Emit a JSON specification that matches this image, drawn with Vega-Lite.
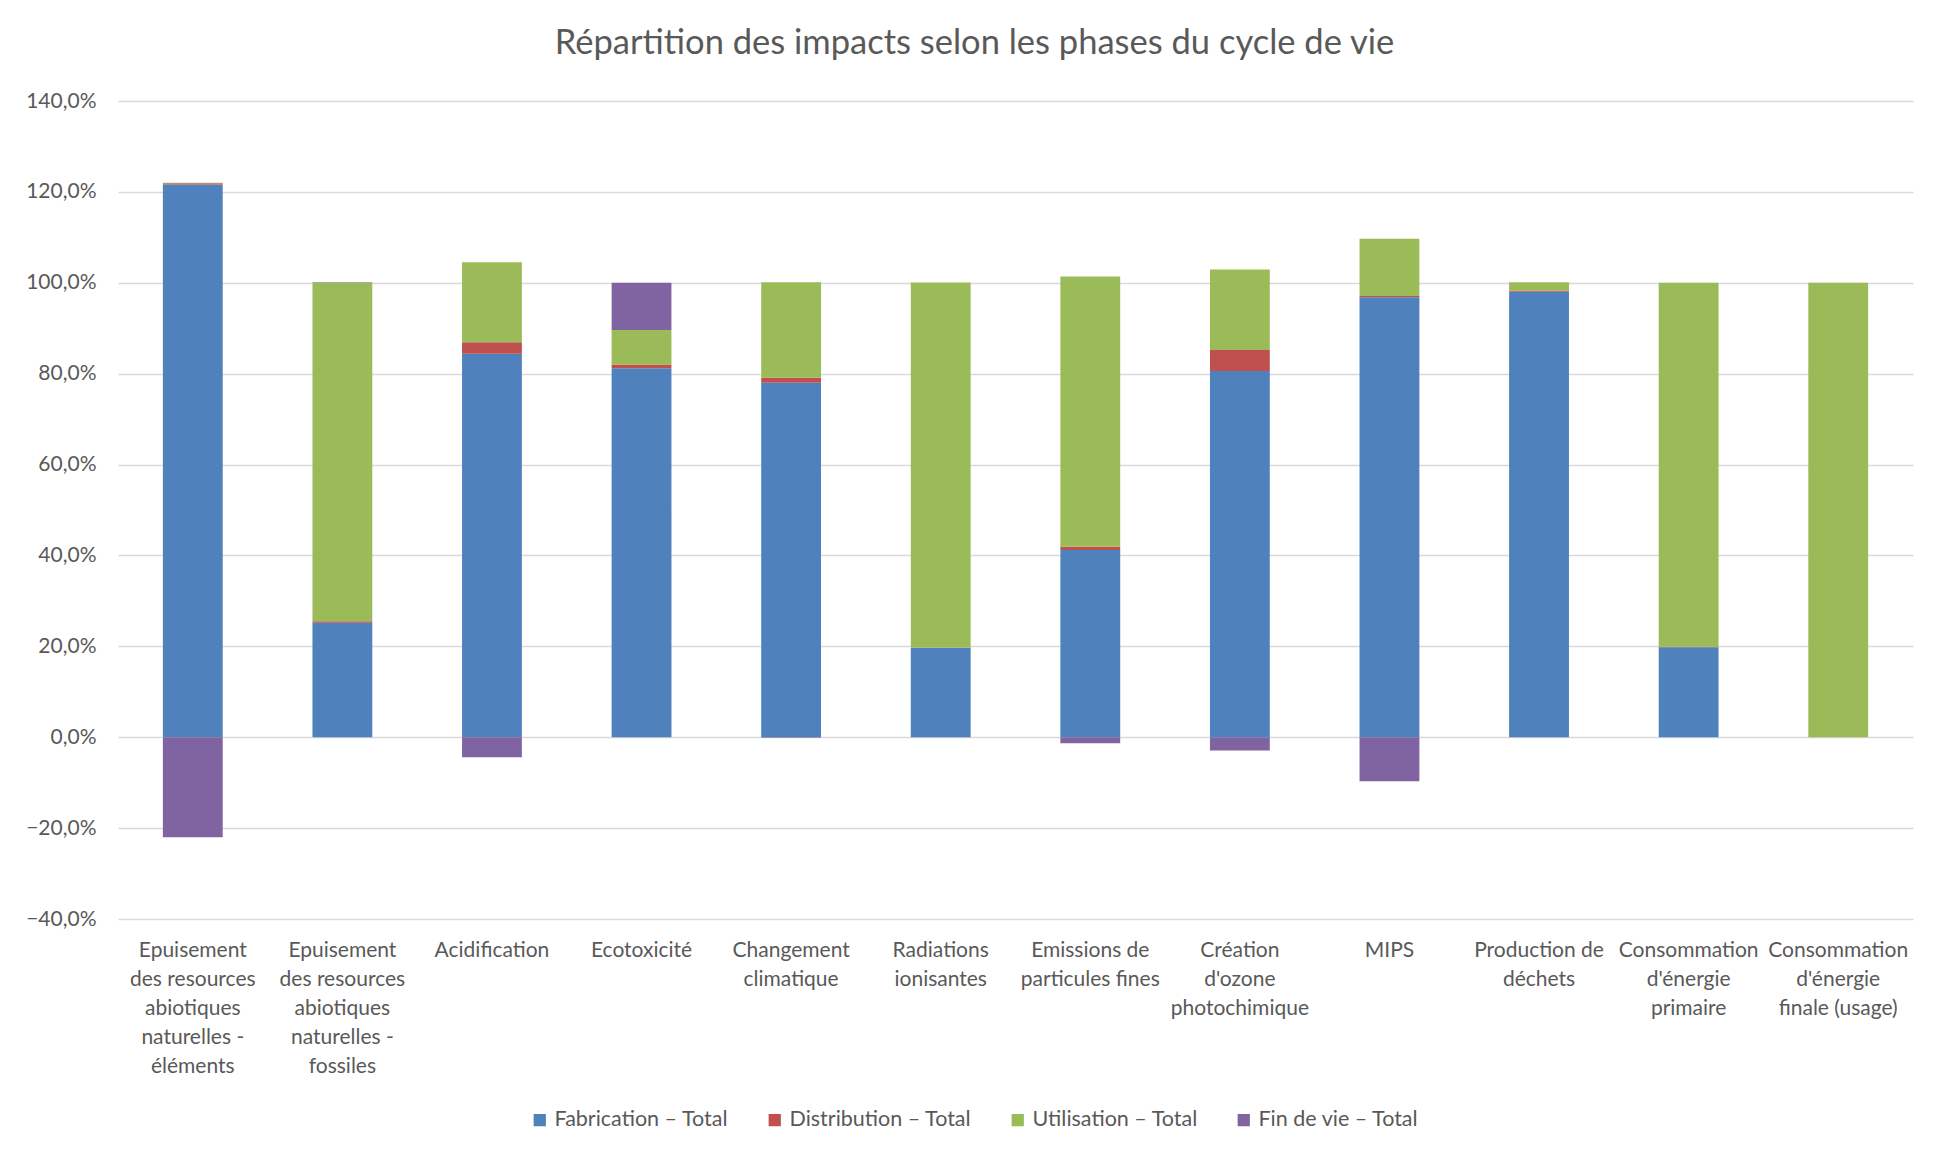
{
  "$schema": "https://vega.github.io/schema/vega-lite/v6.json",
  "autosize": "none",
  "width": 1795,
  "height": 818,
  "padding": {"left": 118, "top": 101, "right": 28, "bottom": 238},
  "background": "white",
  "title": {
    "text": "Répartition des impacts selon les phases du cycle de vie",
    "font": "Lato",
    "fontSize": 34.5,
    "fontWeight": "normal",
    "color": "#595959",
    "anchor": "middle",
    "offset": 29,
    "dx": -41
  },
  "data": {
    "values": [
      {"cat": "Epuisement|des resources|abiotiques|naturelles -|éléments", "phase": "Fabrication – Total", "ord": 1, "v": 1.216},
      {"cat": "Epuisement|des resources|abiotiques|naturelles -|éléments", "phase": "Distribution – Total", "ord": 2, "v": 0.003},
      {"cat": "Epuisement|des resources|abiotiques|naturelles -|éléments", "phase": "Utilisation – Total", "ord": 3, "v": 0.001},
      {"cat": "Epuisement|des resources|abiotiques|naturelles -|éléments", "phase": "Fin de vie – Total", "ord": 4, "v": -0.220},
      {"cat": "Epuisement|des resources|abiotiques|naturelles -|fossiles", "phase": "Fabrication – Total", "ord": 1, "v": 0.252},
      {"cat": "Epuisement|des resources|abiotiques|naturelles -|fossiles", "phase": "Distribution – Total", "ord": 2, "v": 0.003},
      {"cat": "Epuisement|des resources|abiotiques|naturelles -|fossiles", "phase": "Utilisation – Total", "ord": 3, "v": 0.745},
      {"cat": "Epuisement|des resources|abiotiques|naturelles -|fossiles", "phase": "Fin de vie – Total", "ord": 4, "v": 0.001},
      {"cat": "Acidification", "phase": "Fabrication – Total", "ord": 1, "v": 0.844},
      {"cat": "Acidification", "phase": "Distribution – Total", "ord": 2, "v": 0.025},
      {"cat": "Acidification", "phase": "Utilisation – Total", "ord": 3, "v": 0.176},
      {"cat": "Acidification", "phase": "Fin de vie – Total", "ord": 4, "v": -0.044},
      {"cat": "Ecotoxicité", "phase": "Fabrication – Total", "ord": 1, "v": 0.812},
      {"cat": "Ecotoxicité", "phase": "Distribution – Total", "ord": 2, "v": 0.008},
      {"cat": "Ecotoxicité", "phase": "Utilisation – Total", "ord": 3, "v": 0.076},
      {"cat": "Ecotoxicité", "phase": "Fin de vie – Total", "ord": 4, "v": 0.104},
      {"cat": "Changement|climatique", "phase": "Fabrication – Total", "ord": 1, "v": 0.780},
      {"cat": "Changement|climatique", "phase": "Distribution – Total", "ord": 2, "v": 0.011},
      {"cat": "Changement|climatique", "phase": "Utilisation – Total", "ord": 3, "v": 0.210},
      {"cat": "Changement|climatique", "phase": "Fin de vie – Total", "ord": 4, "v": -0.001},
      {"cat": "Radiations|ionisantes", "phase": "Fabrication – Total", "ord": 1, "v": 0.197},
      {"cat": "Radiations|ionisantes", "phase": "Distribution – Total", "ord": 2, "v": 0.0005},
      {"cat": "Radiations|ionisantes", "phase": "Utilisation – Total", "ord": 3, "v": 0.803},
      {"cat": "Radiations|ionisantes", "phase": "Fin de vie – Total", "ord": 4, "v": 0.0},
      {"cat": "Emissions de|particules fines", "phase": "Fabrication – Total", "ord": 1, "v": 0.412},
      {"cat": "Emissions de|particules fines", "phase": "Distribution – Total", "ord": 2, "v": 0.007},
      {"cat": "Emissions de|particules fines", "phase": "Utilisation – Total", "ord": 3, "v": 0.595},
      {"cat": "Emissions de|particules fines", "phase": "Fin de vie – Total", "ord": 4, "v": -0.013},
      {"cat": "Création|d'ozone|photochimique", "phase": "Fabrication – Total", "ord": 1, "v": 0.806},
      {"cat": "Création|d'ozone|photochimique", "phase": "Distribution – Total", "ord": 2, "v": 0.046},
      {"cat": "Création|d'ozone|photochimique", "phase": "Utilisation – Total", "ord": 3, "v": 0.177},
      {"cat": "Création|d'ozone|photochimique", "phase": "Fin de vie – Total", "ord": 4, "v": -0.029},
      {"cat": "MIPS", "phase": "Fabrication – Total", "ord": 1, "v": 0.968},
      {"cat": "MIPS", "phase": "Distribution – Total", "ord": 2, "v": 0.003},
      {"cat": "MIPS", "phase": "Utilisation – Total", "ord": 3, "v": 0.126},
      {"cat": "MIPS", "phase": "Fin de vie – Total", "ord": 4, "v": -0.097},
      {"cat": "Production de|déchets", "phase": "Fabrication – Total", "ord": 1, "v": 0.980},
      {"cat": "Production de|déchets", "phase": "Distribution – Total", "ord": 2, "v": 0.003},
      {"cat": "Production de|déchets", "phase": "Utilisation – Total", "ord": 3, "v": 0.018},
      {"cat": "Production de|déchets", "phase": "Fin de vie – Total", "ord": 4, "v": 0.0},
      {"cat": "Consommation|d'énergie|primaire", "phase": "Fabrication – Total", "ord": 1, "v": 0.198},
      {"cat": "Consommation|d'énergie|primaire", "phase": "Distribution – Total", "ord": 2, "v": 0.001},
      {"cat": "Consommation|d'énergie|primaire", "phase": "Utilisation – Total", "ord": 3, "v": 0.801},
      {"cat": "Consommation|d'énergie|primaire", "phase": "Fin de vie – Total", "ord": 4, "v": 0.0},
      {"cat": "Consommation|d'énergie|finale (usage)", "phase": "Fabrication – Total", "ord": 1, "v": 0.0},
      {"cat": "Consommation|d'énergie|finale (usage)", "phase": "Distribution – Total", "ord": 2, "v": 0.0},
      {"cat": "Consommation|d'énergie|finale (usage)", "phase": "Utilisation – Total", "ord": 3, "v": 1.0},
      {"cat": "Consommation|d'énergie|finale (usage)", "phase": "Fin de vie – Total", "ord": 4, "v": 0.0}
    ]
  },
  "mark": {"type": "bar"},
  "encoding": {
    "x": {
      "field": "cat",
      "type": "nominal",
      "sort": null,
      "scale": {"paddingInner": 0.6, "paddingOuter": 0.3},
      "axis": {
        "title": null,
        "domain": false,
        "ticks": false,
        "labelAngle": 0,
        "labelExpr": "split(datum.label, '|')",
        "labelLineHeight": 29,
        "labelPadding": 20,
        "labelLimit": 0,
        "labelOverlap": false,
        "labelBaseline": "top",
        "labelFontSize": 21
      }
    },
    "y": {
      "field": "v",
      "type": "quantitative",
      "stack": "zero",
      "scale": {"domain": [-0.4, 1.4], "nice": false},
      "axis": {
        "title": null,
        "values": [-0.4, -0.2, 0, 0.2, 0.4, 0.6, 0.8, 1.0, 1.2, 1.4],
        "labelExpr": "replace(format(datum.value, '.1%'), '.', ',')",
        "domain": false,
        "ticks": false,
        "labelPadding": 22,
        "labelFontSize": 21,
        "grid": true
      }
    },
    "color": {
      "field": "phase",
      "type": "nominal",
      "scale": {
        "domain": ["Fabrication – Total", "Distribution – Total", "Utilisation – Total", "Fin de vie – Total"],
        "range": ["#4F81BD", "#C0504D", "#9BBB59", "#8064A2"]
      },
      "legend": {
        "title": null,
        "orient": "none",
        "direction": "horizontal",
        "legendX": 411,
        "legendY": 1008,
        "symbolType": "square",
        "symbolSize": 150,
        "symbolStrokeWidth": 0,
        "labelFontSize": 21.5,
        "labelFont": "Lato",
        "labelColor": "#595959",
        "labelOffset": 4,
        "columnPadding": 35,
        "labelLimit": 0,
        "padding": 0
      }
    },
    "order": {"field": "ord", "type": "quantitative", "sort": "ascending"}
  },
  "config": {
    "view": {"stroke": null},
    "font": "Lato",
    "axis": {
      "labelFont": "Lato",
      "labelFontSize": 20,
      "labelColor": "#595959",
      "gridColor": "#D9D9D9",
      "gridWidth": 1.3
    }
  }
}
